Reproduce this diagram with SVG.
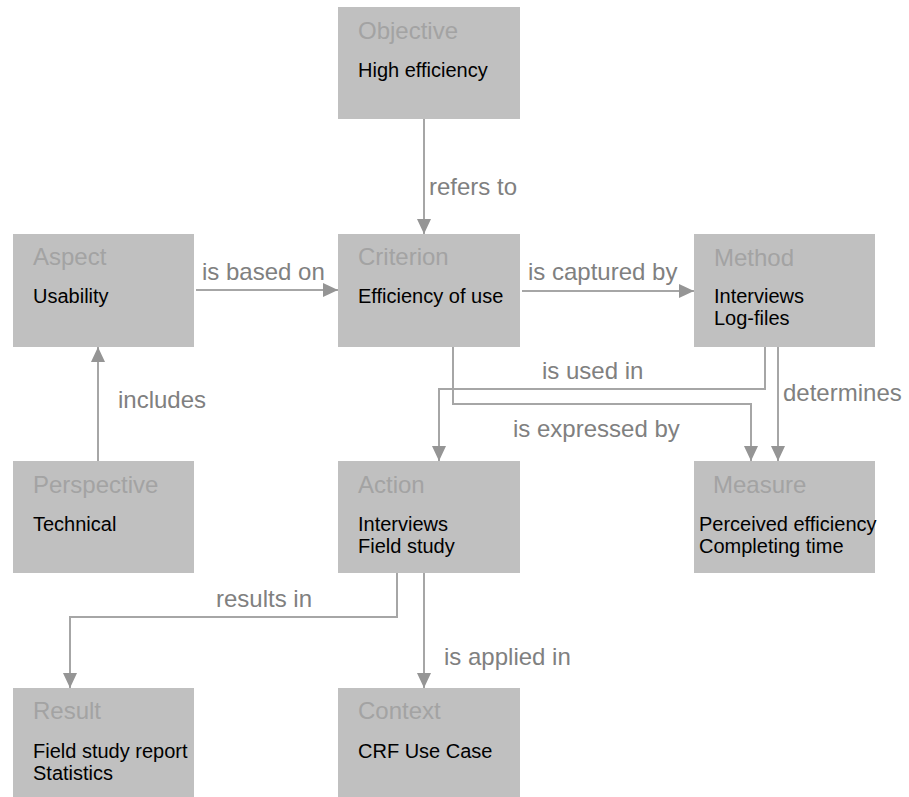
<svg xmlns="http://www.w3.org/2000/svg" width="909" height="797" viewBox="0 0 909 797">
  <style>
    .box { fill: #c0c0c0; }
    .title { font-family: "Liberation Sans", Arial, sans-serif; font-size: 24px; fill: #a3a3a3; }
    .body { font-family: "Liberation Sans", Arial, sans-serif; font-size: 20px; fill: #000000; }
    .edge { fill: none; stroke: #a6a6a6; stroke-width: 2; }
    .label { font-family: "Liberation Sans", Arial, sans-serif; font-size: 24px; fill: #808080; }
  </style>
  <defs>
    <marker id="arrow" markerUnits="userSpaceOnUse" markerWidth="16" markerHeight="16" refX="15" refY="7" orient="auto">
      <path d="M0,0 L15,7 L0,14 Z" fill="#959595"/>
    </marker>
  </defs>
  <rect width="909" height="797" fill="#ffffff"/>

  <!-- nodes -->
  <g id="objective">
    <rect class="box" x="338" y="7" width="182" height="112"/>
    <text class="title" x="358" y="39">Objective</text>
    <text class="body" x="358" y="77">High efficiency</text>
  </g>
  <g id="aspect">
    <rect class="box" x="13" y="234" width="181" height="113"/>
    <text class="title" x="33" y="265">Aspect</text>
    <text class="body" x="33" y="303">Usability</text>
  </g>
  <g id="criterion">
    <rect class="box" x="338" y="234" width="182" height="113"/>
    <text class="title" x="358" y="265">Criterion</text>
    <text class="body" x="358" y="303">Efficiency of use</text>
  </g>
  <g id="method">
    <rect class="box" x="694" y="234" width="181" height="113"/>
    <text class="title" x="714" y="266">Method</text>
    <text class="body" x="714" y="303">Interviews</text>
    <text class="body" x="714" y="325">Log-files</text>
  </g>
  <g id="perspective">
    <rect class="box" x="13" y="461" width="181" height="112"/>
    <text class="title" x="33" y="493">Perspective</text>
    <text class="body" x="33" y="531">Technical</text>
  </g>
  <g id="action">
    <rect class="box" x="338" y="461" width="182" height="112"/>
    <text class="title" x="358" y="493">Action</text>
    <text class="body" x="358" y="531">Interviews</text>
    <text class="body" x="358" y="553">Field study</text>
  </g>
  <g id="measure">
    <rect class="box" x="694" y="461" width="181" height="112"/>
    <text class="title" x="713" y="493">Measure</text>
    <text class="body" x="699" y="531">Perceived efficiency</text>
    <text class="body" x="699" y="553">Completing time</text>
  </g>
  <g id="result">
    <rect class="box" x="13" y="688" width="181" height="112"/>
    <text class="title" x="33" y="719">Result</text>
    <text class="body" x="33" y="758">Field study report</text>
    <text class="body" x="33" y="780">Statistics</text>
  </g>
  <g id="context">
    <rect class="box" x="338" y="688" width="182" height="112"/>
    <text class="title" x="358" y="719">Context</text>
    <text class="body" x="358" y="758">CRF Use Case</text>
  </g>

  <!-- connectors -->
  <g id="connectors">
    <path class="edge" d="M424,119 V234" marker-end="url(#arrow)"/>
    <path class="edge" d="M196,290 H338" marker-end="url(#arrow)"/>
    <path class="edge" d="M522,291 H694" marker-end="url(#arrow)"/>
    <path class="edge" d="M98,461 V347" marker-end="url(#arrow)"/>
    <path class="edge" d="M765,347 V389 H439 V461" marker-end="url(#arrow)"/>
    <path class="edge" d="M453,347 V404 H751 V461" marker-end="url(#arrow)"/>
    <path class="edge" d="M778,347 V461" marker-end="url(#arrow)"/>
    <path class="edge" d="M397,573 V617 H70 V688" marker-end="url(#arrow)"/>
    <path class="edge" d="M424,573 V688" marker-end="url(#arrow)"/>

    <text class="label" x="429" y="195">refers to</text>
    <text class="label" x="202" y="280">is based on</text>
    <text class="label" x="528" y="280">is captured by</text>
    <text class="label" x="118" y="408">includes</text>
    <text class="label" x="542" y="379">is used in</text>
    <text class="label" x="513" y="437">is expressed by</text>
    <text class="label" x="783" y="401">determines</text>
    <text class="label" x="216" y="607">results in</text>
    <text class="label" x="444" y="665">is applied in</text>
  </g>
</svg>
